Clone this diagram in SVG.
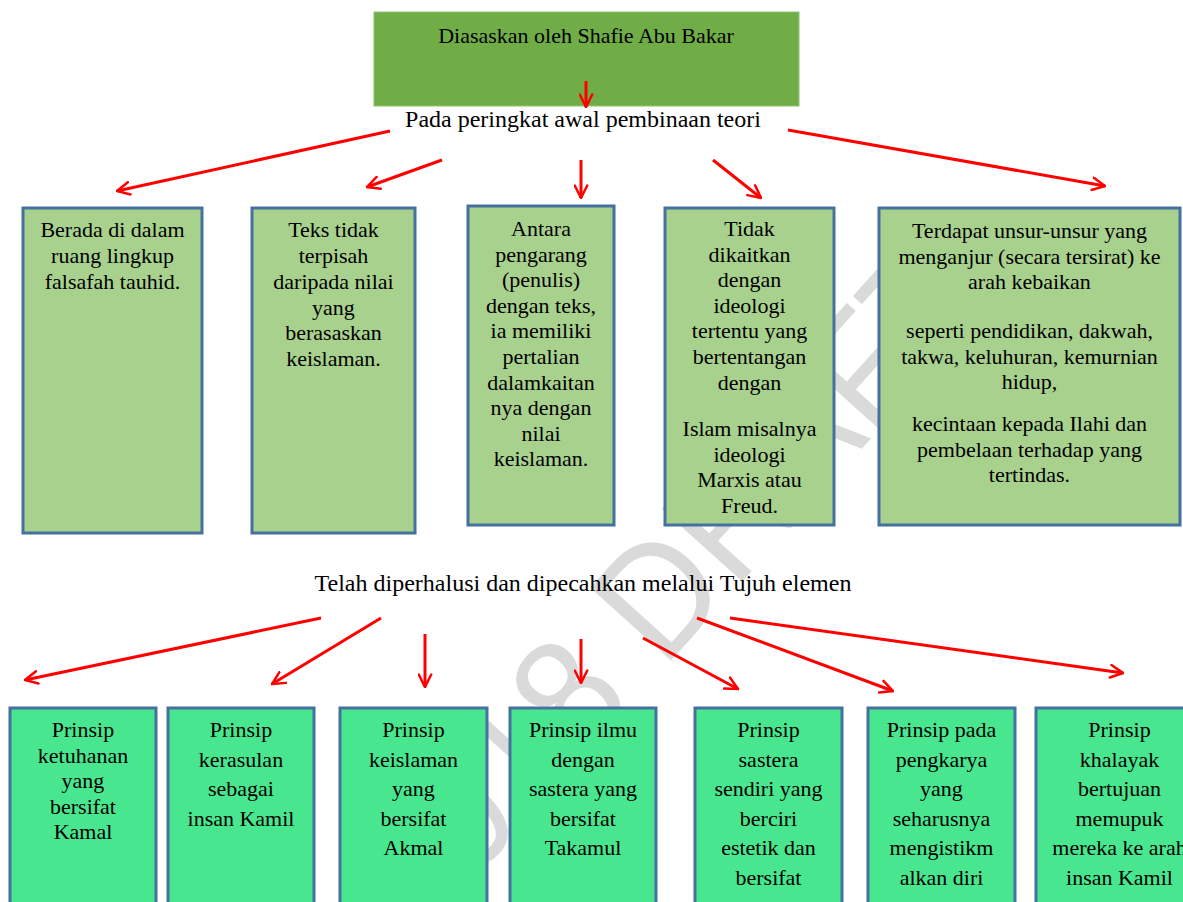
<svg xmlns="http://www.w3.org/2000/svg" width="1183" height="902" viewBox="0 0 1183 902">
<style>
.t{font-family:"Liberation Serif","Times New Roman",serif;fill:#000;text-anchor:middle}
.s22{font-size:22px}
.s24{font-size:24px}
.b1{fill:#a9d18e;stroke:#45719f;stroke-width:3}
.b2{fill:#48e78f;stroke:#45719f;stroke-width:3}
.a{stroke:#ff0000;stroke-width:3;fill:none;marker-end:url(#ah)}
.wm{font-family:"Liberation Sans",Arial,sans-serif;font-size:158px;fill:#dadada}
</style>
<defs>
<marker id="ah" viewBox="0 0 12 12" refX="11" refY="6" markerWidth="5" markerHeight="5" orient="auto" markerUnits="strokeWidth">
<path d="M1,1 L11,6 L1,11" fill="none" stroke="#ff0000" stroke-width="2" stroke-linecap="round" stroke-linejoin="miter"/>
</marker>
</defs>
<rect width="1183" height="902" fill="#ffffff"/>
<g id="watermark">
<text class="wm" x="704" y="624" text-anchor="middle" textLength="860" lengthAdjust="spacingAndGlyphs" transform="rotate(-48 704 624)">2018 DRAFT</text>
</g>
<g id="n-top">
<rect x="374" y="12" width="425" height="94" fill="#70ad47" stroke="#8fc06f" stroke-width="1"/>
<text class="t s22" x="586" y="43">Diasaskan oleh Shafie Abu Bakar</text>
</g>
<g id="n-pada">
<text class="t s24" x="583" y="127">Pada peringkat awal pembinaan teori</text>
</g>
<g id="n-b1">
<rect class="b1" x="23" y="208" width="179" height="325"/>
<text class="t s22"><tspan x="112.5" y="237">Berada di dalam</tspan><tspan x="112.5" y="263">ruang lingkup</tspan><tspan x="112.5" y="289">falsafah tauhid.</tspan></text>
</g>
<g id="n-b2">
<rect class="b1" x="252" y="208" width="163" height="325"/>
<text class="t s22"><tspan x="333.5" y="237">Teks tidak</tspan><tspan x="333.5" y="263">terpisah</tspan><tspan x="333.5" y="289">daripada nilai</tspan><tspan x="333.5" y="314.5">yang</tspan><tspan x="333.5" y="340">berasaskan</tspan><tspan x="333.5" y="366">keislaman.</tspan></text>
</g>
<g id="n-b3">
<rect class="b1" x="468" y="206" width="146" height="319"/>
<text class="t s22"><tspan x="541" y="236">Antara</tspan><tspan x="541" y="261.6">pengarang</tspan><tspan x="541" y="287.2">(penulis)</tspan><tspan x="541" y="312.8">dengan teks,</tspan><tspan x="541" y="338.4">ia memiliki</tspan><tspan x="541" y="364">pertalian</tspan><tspan x="541" y="389.6">dalamkaitan</tspan><tspan x="541" y="415.2">nya dengan</tspan><tspan x="541" y="440.8">nilai</tspan><tspan x="541" y="466.4">keislaman.</tspan></text>
</g>
<g id="n-b4">
<rect class="b1" x="665" y="208" width="169" height="317"/>
<text class="t s22"><tspan x="749.5" y="236">Tidak</tspan><tspan x="749.5" y="261.6">dikaitkan</tspan><tspan x="749.5" y="287.2">dengan</tspan><tspan x="749.5" y="312.8">ideologi</tspan><tspan x="749.5" y="338.4">tertentu yang</tspan><tspan x="749.5" y="364">bertentangan</tspan><tspan x="749.5" y="389.6">dengan</tspan><tspan x="749.5" y="436">Islam misalnya</tspan><tspan x="749.5" y="461.6">ideologi</tspan><tspan x="749.5" y="487.2">Marxis atau</tspan><tspan x="749.5" y="512.8">Freud.</tspan></text>
</g>
<g id="n-b5">
<rect class="b1" x="879" y="208" width="301" height="317"/>
<text class="t s22"><tspan x="1029.5" y="238">Terdapat unsur-unsur yang</tspan><tspan x="1029.5" y="263.5">menganjur (secara tersirat) ke</tspan><tspan x="1029.5" y="289">arah kebaikan</tspan><tspan x="1029.5" y="338">seperti pendidikan, dakwah,</tspan><tspan x="1029.5" y="363.5">takwa, keluhuran, kemurnian</tspan><tspan x="1029.5" y="389">hidup,</tspan><tspan x="1029.5" y="431">kecintaan kepada Ilahi dan</tspan><tspan x="1029.5" y="456.5">pembelaan terhadap yang</tspan><tspan x="1029.5" y="482">tertindas.</tspan></text>
</g>
<g id="n-telah">
<text class="t s24" x="583" y="591">Telah diperhalusi dan dipecahkan melalui Tujuh elemen</text>
</g>
<g id="n-c1">
<rect class="b2" x="10" y="708" width="146" height="200"/>
<text class="t s22"><tspan x="83" y="737">Prinsip</tspan><tspan x="83" y="762.5">ketuhanan</tspan><tspan x="83" y="788">yang</tspan><tspan x="83" y="813.5">bersifat</tspan><tspan x="83" y="839">Kamal</tspan></text>
</g>
<g id="n-c2">
<rect class="b2" x="168" y="708" width="146" height="200"/>
<text class="t s22"><tspan x="241" y="737">Prinsip</tspan><tspan x="241" y="766.5">kerasulan</tspan><tspan x="241" y="796">sebagai</tspan><tspan x="241" y="825.5">insan Kamil</tspan></text>
</g>
<g id="n-c3">
<rect class="b2" x="340" y="708" width="147" height="200"/>
<text class="t s22"><tspan x="413.5" y="737">Prinsip</tspan><tspan x="413.5" y="766.5">keislaman</tspan><tspan x="413.5" y="796">yang</tspan><tspan x="413.5" y="825.5">bersifat</tspan><tspan x="413.5" y="855">Akmal</tspan></text>
</g>
<g id="n-c4">
<rect class="b2" x="510" y="708" width="146" height="200"/>
<text class="t s22"><tspan x="583" y="737">Prinsip ilmu</tspan><tspan x="583" y="766.5">dengan</tspan><tspan x="583" y="796">sastera yang</tspan><tspan x="583" y="825.5">bersifat</tspan><tspan x="583" y="855">Takamul</tspan></text>
</g>
<g id="n-c5">
<rect class="b2" x="695" y="708" width="147" height="200"/>
<text class="t s22"><tspan x="768.5" y="737">Prinsip</tspan><tspan x="768.5" y="766.5">sastera</tspan><tspan x="768.5" y="796">sendiri yang</tspan><tspan x="768.5" y="825.5">berciri</tspan><tspan x="768.5" y="855">estetik dan</tspan><tspan x="768.5" y="884.5">bersifat</tspan></text>
</g>
<g id="n-c6">
<rect class="b2" x="868" y="708" width="147" height="200"/>
<text class="t s22"><tspan x="941.5" y="737">Prinsip pada</tspan><tspan x="941.5" y="766.5">pengkarya</tspan><tspan x="941.5" y="796">yang</tspan><tspan x="941.5" y="825.5">seharusnya</tspan><tspan x="941.5" y="855">mengistikm</tspan><tspan x="941.5" y="884.5">alkan diri</tspan></text>
</g>
<g id="n-c7">
<rect class="b2" x="1036" y="708" width="167" height="200"/>
<text class="t s22"><tspan x="1119.5" y="737">Prinsip</tspan><tspan x="1119.5" y="766.5">khalayak</tspan><tspan x="1119.5" y="796">bertujuan</tspan><tspan x="1119.5" y="825.5">memupuk</tspan><tspan x="1119.5" y="855">mereka ke arah</tspan><tspan x="1119.5" y="884.5">insan Kamil</tspan></text>
</g>
<g id="connectors">
<line class="a" x1="586" y1="81" x2="586" y2="107"/>
<line class="a" x1="390" y1="131" x2="117" y2="191"/>
<line class="a" x1="442" y1="160" x2="367" y2="187"/>
<line class="a" x1="581" y1="160" x2="581" y2="198"/>
<line class="a" x1="713" y1="160" x2="761" y2="198"/>
<line class="a" x1="788" y1="130" x2="1105" y2="186"/>
<line class="a" x1="321" y1="618" x2="25" y2="680"/>
<line class="a" x1="381" y1="618" x2="272" y2="684"/>
<line class="a" x1="425" y1="634" x2="425" y2="687"/>
<line class="a" x1="581" y1="639" x2="581" y2="683"/>
<line class="a" x1="643" y1="638" x2="738" y2="689"/>
<line class="a" x1="697" y1="618" x2="893" y2="691"/>
<line class="a" x1="730" y1="618" x2="1123" y2="673"/>
</g>
</svg>
